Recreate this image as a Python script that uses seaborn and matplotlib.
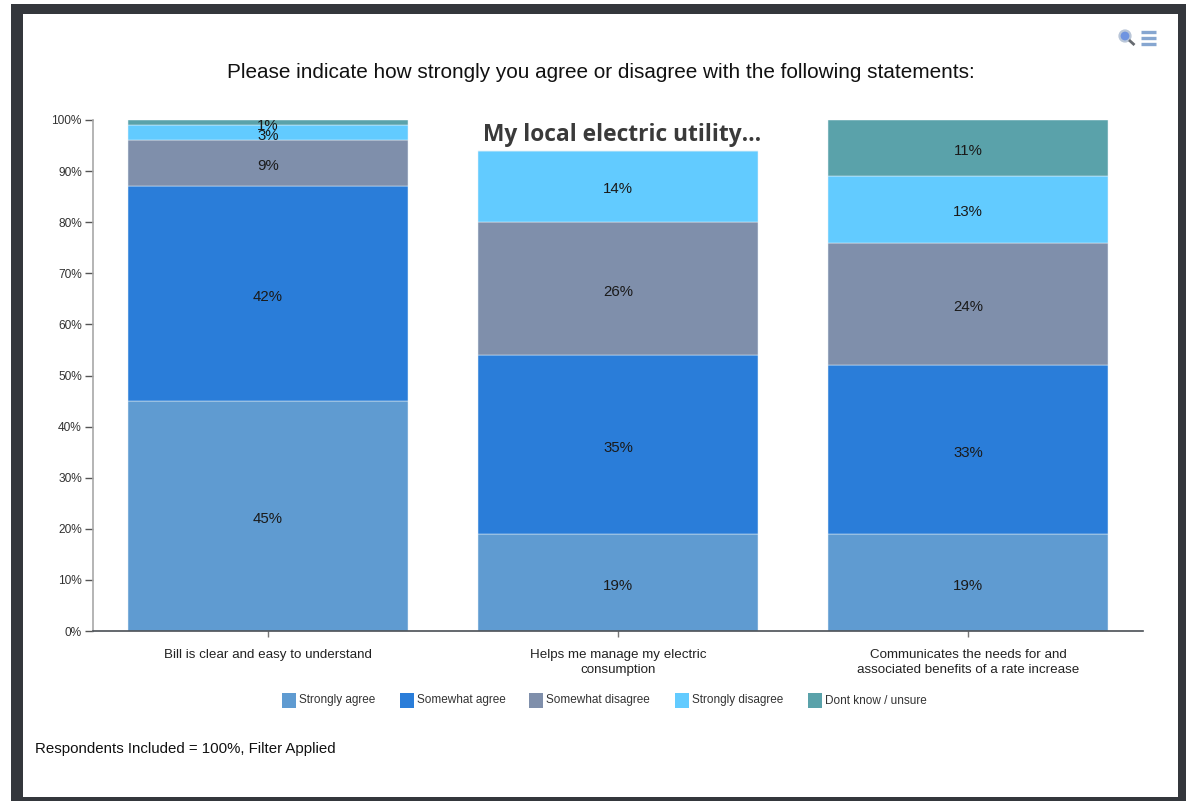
import matplotlib
matplotlib.use("Agg")
import matplotlib.pyplot as plt
from matplotlib.patches import Rectangle, Ellipse
from matplotlib.lines import Line2D
import numpy as np
import pandas as pd
import seaborn as sns

statements = [
    "Bill is clear and easy to understand",
    "Helps me manage my electric\nconsumption",
    "Communicates the needs for and\nassociated benefits of a rate increase",
]
responses = ["Strongly agree", "Somewhat agree", "Somewhat disagree", "Strongly disagree", "Dont know / unsure"]
strongly_agree = [45, 19, 19]
somewhat_agree = [42, 35, 33]
somewhat_disagree = [9, 26, 24]
strongly_disagree = [3, 14, 13]
dont_know = [1, 0, 11]
palette = ["#5F9BD1", "#2A7DD9", "#7F8FAB", "#62CBFF", "#5AA2AA"]

W, H = 1186, 801
sns.set_theme(style="white")
plt.rcParams["font.family"] = ["Liberation Sans", "DejaVu Sans"]

fig = plt.figure(figsize=(W / 100, H / 100), dpi=100, facecolor="white")


def fx(x):
    return x / W


def fy(y):
    return 1 - y / H


# Dark page frame around the white chart card
frame = "#34373C"
for x0, y0, x1, y1 in [(11, 4, 1186, 14), (11, 4, 23, 801), (1178, 4, 1186, 801), (11, 797, 1186, 801)]:
    fig.add_artist(Rectangle((fx(x0), fy(y1)), (x1 - x0) / W, (y1 - y0) / H,
                             transform=fig.transFigure, facecolor=frame, edgecolor="none"))

ax = fig.add_axes([fx(93), fy(631), 1050 / W, 511 / H])
ax.patch.set_alpha(0)

table = pd.DataFrame(
    np.array([strongly_agree, somewhat_agree, somewhat_disagree, strongly_disagree, dont_know]).T,
    columns=responses,
)
table.insert(0, "statement", statements)

# Stack the response shares bar by bar
base = np.zeros(len(statements))
for name, colour in zip(responses, palette):
    vals = table[name].to_numpy(dtype=float)
    sns.barplot(data=table, x="statement", y=name, color=colour, saturation=1, width=0.8,
                bottom=base, ax=ax, linewidth=0.35, edgecolor="#E6F1F7", errorbar=None)
    for i, v in enumerate(vals):
        if v > 0:
            ax.annotate(f"{int(v)}%", (i, base[i] + v / 2), xytext=(0, -2.2), textcoords="offset points",
                        ha="center", va="center", fontsize=10.8, color="#1a1a1a", zorder=5)
    base = base + vals

ax.set_xlim(-0.5, 2.5)
ax.set_ylim(0, 100)
ax.set_xlabel("")
ax.set_ylabel("")
ax.set_yticks(range(0, 101, 10))
ax.set_yticklabels([f"{t}%" for t in range(0, 101, 10)], fontsize=8.6, color="#333333")
ax.set_xticks(range(3))
ax.set_xticklabels(statements, fontsize=9.6, color="#222222", linespacing=1.3)
ax.tick_params(axis="y", left=True, length=6, width=1, color="#555555", pad=2)
ax.tick_params(axis="x", bottom=True, length=4, width=1, color="#777777", pad=9)
for side in ("top", "right"):
    ax.spines[side].set_visible(False)
ax.spines["left"].set_color("#A8A8A8")
ax.spines["left"].set_linewidth(1.2)
ax.spines["bottom"].set_color("#4A4F55")
ax.spines["bottom"].set_linewidth(1.2)

fig.text(fx(601), fy(72), "Please indicate how strongly you agree or disagree with the following statements:",
         ha="center", va="center", fontsize=14.95, color="#111111")
fig.text(fx(622), fy(135), "My local electric utility…", ha="center", va="center",
         fontsize=16.4, fontweight="bold", family=["Open Sans", "DejaVu Sans"], color="#3A3A3A")
fig.text(fx(35), fy(749), "Respondents Included = 100%, Filter Applied", ha="left", va="center",
         fontsize=10.8, color="#111111")

# Legend row under the plot
legend_swatches = [282, 400, 529, 675, 808]
for sx, name, colour in zip(legend_swatches, responses, palette):
    fig.add_artist(Rectangle((fx(sx), fy(708)), 14 / W, 15 / H, transform=fig.transFigure,
                             facecolor=colour, edgecolor="none"))
    fig.text(fx(sx + 17), fy(700.5), name, ha="left", va="center", fontsize=8.5, color="#333333")

# Zoom and menu icons in the top-right corner
fig.add_artist(Line2D([fx(1129), fx(1134.5)], [fy(40), fy(45)], transform=fig.transFigure,
                      color="#666A70", linewidth=2, solid_capstyle="butt"))
fig.add_artist(Ellipse((fx(1125), fy(36)), 11 / W, 11 / H, transform=fig.transFigure,
                       facecolor="#6F94E0", edgecolor="#B9C6D8", linewidth=1.6))
for y in (32, 38, 44):
    fig.add_artist(Line2D([fx(1141), fx(1155.5)], [fy(y), fy(y)], transform=fig.transFigure,
                          color="#86A6D0", linewidth=2.4, solid_capstyle="butt"))

fig.savefig("out.png", dpi=100, facecolor="white")
